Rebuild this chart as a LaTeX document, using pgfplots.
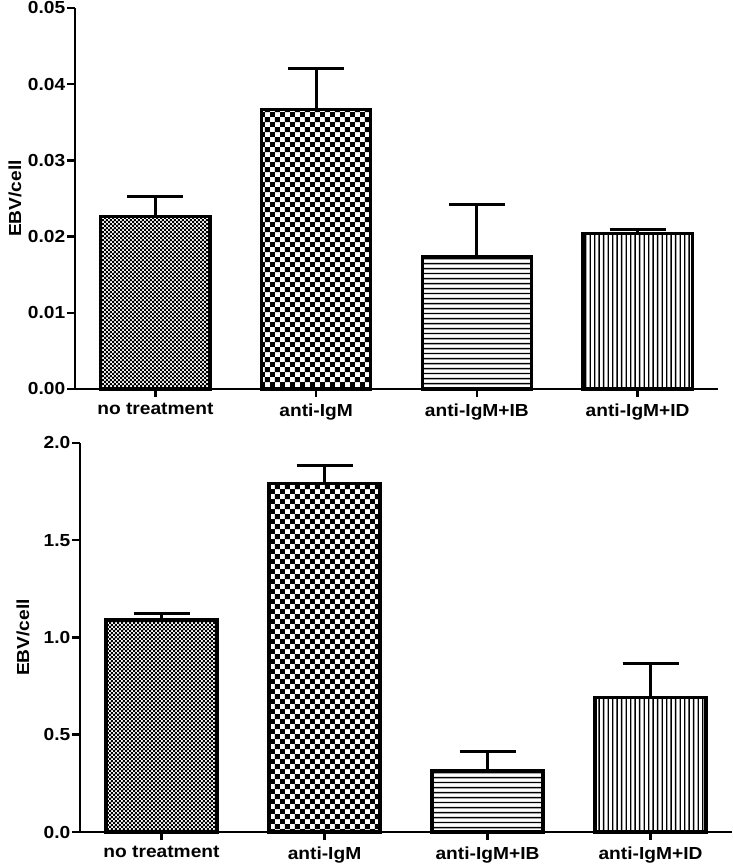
\documentclass[border=0pt]{standalone}
\usepackage{pgfplots}
\pgfplotsset{compat=1.18}
\usepackage{fontspec}
\setmainfont[FakeStretch=1.1]{Liberation Sans}
\usetikzlibrary{patterns.meta}

\tikzdeclarepattern{
  name=finecheck, type=uncolored,
  bottom left={(0bp,0bp)}, top right={(4.2bp,4.2bp)}, tile size={(4.2bp,4.2bp)},
  code={
    \fill (0bp,0bp) rectangle (2.6bp,2.6bp);
    \fill (2.1bp,2.1bp) rectangle (4.7bp,4.7bp);
  }
}
\tikzdeclarepattern{
  name=coarsecheck, type=uncolored,
  bottom left={(0bp,0bp)}, top right={(10.4bp,10.4bp)}, tile size={(10.4bp,10.4bp)},
  code={
    \fill (0bp,0bp) rectangle (5.2bp,5.2bp);
    \fill (5.2bp,5.2bp) rectangle (10.4bp,10.4bp);
  }
}
\tikzdeclarepattern{
  name=hlines, type=uncolored,
  bottom left={(0bp,0bp)}, top right={(200bp,20.4bp)}, tile size={(200bp,20.4bp)},
  code={
    \fill (0bp,1.8bp) rectangle (200bp,3.3bp);
    \fill (0bp,6.9bp) rectangle (200bp,8.4bp);
    \fill (0bp,12.0bp) rectangle (200bp,13.5bp);
    \fill (0bp,17.1bp) rectangle (200bp,18.6bp);
  }
}
\tikzdeclarepattern{
  name=vlines, type=uncolored,
  bottom left={(0bp,0bp)}, top right={(18.4bp,200bp)}, tile size={(18.4bp,200bp)},
  code={
    \fill (1.6bp,0bp) rectangle (3.0bp,200bp);
    \fill (6.2bp,0bp) rectangle (7.6bp,200bp);
    \fill (10.8bp,0bp) rectangle (12.2bp,200bp);
    \fill (15.4bp,0bp) rectangle (16.8bp,200bp);
  }
}

\pgfplotsset{
  mystyle/.style={
    scale only axis,
    axis x line*=bottom, axis y line*=left,
    axis line style={line width=2.8bp, -},
    xmin=-0.5, xmax=3.5, ymin=0,
    xtick={0,1,2,3},
    xticklabels={no treatment, anti-IgM, anti-IgM+IB, anti-IgM+ID},
    tick align=outside,
    major tick length=8bp,
    every tick/.style={line width=2.5bp, black},
    tick label style={font=\bfseries\fontsize{17.5}{20}\selectfont},
    yticklabel style={inner sep=1.5bp},
    xticklabel style={yshift=-3bp},
    /pgf/number format/assume math mode=true,
    scaled y ticks=false,
    label style={font=\bfseries\fontsize{17.5}{20}\selectfont},
    ylabel={EBV/cell},
    clip=false,
  },
  mybar/.style={
    ybar, bar width=0.68, bar shift=0pt, draw=black, line width=3.3bp,
    pattern=#1, pattern color=black,
    error bars/.cd, y dir=plus, y explicit,
    error bar style={line width=3bp, black},
    error mark options={rotate=90, mark size=28bp, line width=3bp, black},
  },
}

\begin{document}
\begin{tikzpicture}
\useasboundingbox (0bp,0bp) rectangle (733bp,865bp);

\begin{axis}[mystyle,
  at={(75bp,476bp)}, anchor=south west,
  width=643bp, height=381bp,
  ymax=0.05, ytick={0,0.01,0.02,0.03,0.04,0.05},
  yticklabel style={/pgf/number format/.cd, fixed, fixed zerofill, precision=2},
  ylabel style={at={(axis description cs:-0.0933,0.5)}, anchor=center},
]
\addplot[mybar=finecheck] coordinates {(0,0.0226) +- (0,0.0027)};
\addplot[mybar=coarsecheck] coordinates {(1,0.0367) +- (0,0.0053)};
\addplot[mybar=hlines] coordinates {(2,0.0174) +- (0,0.0068)};
\addplot[mybar=vlines] coordinates {(3,0.0204) +- (0,0.0005)};
\end{axis}

\begin{axis}[mystyle,
  at={(80bp,33bp)}, anchor=south west,
  width=652bp, height=389bp,
  ymax=2, ytick={0,0.5,1,1.5,2},
  yticklabel style={/pgf/number format/.cd, fixed, fixed zerofill, precision=1},
  ylabel style={at={(axis description cs:-0.0874,0.5)}, anchor=center},
]
\addplot[mybar=finecheck] coordinates {(0,1.09) +- (0,0.035)};
\addplot[mybar=coarsecheck] coordinates {(1,1.79) +- (0,0.094)};
\addplot[mybar=hlines] coordinates {(2,0.315) +- (0,0.098)};
\addplot[mybar=vlines] coordinates {(3,0.69) +- (0,0.175)};
\end{axis}
\end{tikzpicture}
\end{document}
